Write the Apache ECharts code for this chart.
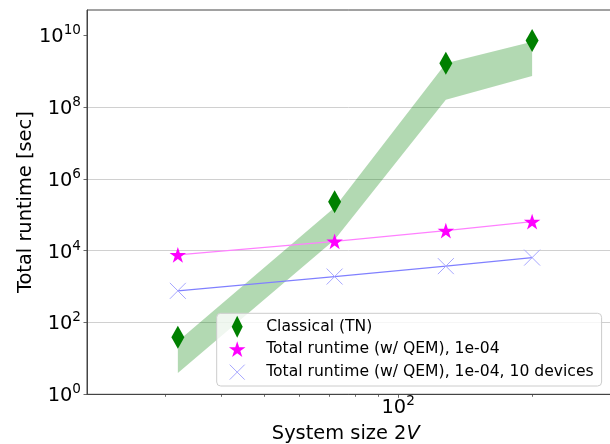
<!DOCTYPE html>
<html>
<head>
<meta charset="utf-8">
<script src="https://cdn.jsdelivr.net/npm/echarts@6/dist/echarts.min.js"></script>
<style>
html,body{margin:0;padding:0;background:#fff;}
#chart{width:610px;height:444px;}
</style>
</head>
<body>
<div id="chart"></div>
<script>
// ---- data ----
const systemSizes = [32, 72, 128, 200];
const classicalTN = [38.7, 2.3e5, 1.66e9, 7.1e9];
const classicalLow = [3.9, 2.0e4, 1.6e8, 7.3e8];
const classicalHigh = [30, 1.6e5, 1.66e9, 6.5e9];
const qemRuntime = [7.6e3, 1.8e4, 3.6e4, 6.4e4];
const qemRuntime10 = [7.6e2, 1.9e3, 3.7e3, 6.4e3];
const yTickExponents = [0, 2, 4, 6, 8, 10];
const xMajorTicks = [100];
const xMinorTicks = [30, 40, 50, 60, 70, 80, 90, 200, 300];
const seriesNames = [
  'Classical (TN)',
  'Total runtime (w/ QEM), 1e-04',
  'Total runtime (w/ QEM), 1e-04, 10 devices'
];

// ---- helpers ----
const lg = Math.log10;
const FONT = 'DejaVu Sans';
const pts = ys => systemSizes.map((x, i) => [lg(x), lg(ys[i])]);

function starPath(cx, cy, R) {
  const r = R * 0.381966;
  let d = '';
  for (let k = 0; k < 10; k++) {
    const a = (-90 + 36 * k) * Math.PI / 180;
    const rad = k % 2 ? r : R;
    d += (k ? 'L' : 'M') + (cx + rad * Math.cos(a)).toFixed(2) + ' ' + (cy + rad * Math.sin(a)).toFixed(2);
  }
  return d + 'Z';
}

const LW = 36, LH = 22.5;           // legend icon canvas
const pad = 'M0 0M' + LW + ' ' + LH; // bounding points for icon canvas
const legendIcons = [
  'path://' + pad + 'M12 0.25L17.5 11.25L12 22.25L6.5 11.25Z',
  'path://' + pad + starPath(12, 12.1, 8.7),
  'path://' + pad + 'M4.5 3.75L19.5 18.75M19.5 3.75L4.5 18.75'
];

const supRich = {
  b: { fontSize: 19.4, lineHeight: 22, padding: [4, 0, 0, 0], color: '#000', fontFamily: FONT },
  s: { fontSize: 13.6, lineHeight: 15, padding: [0, 0, 9, 0], color: '#000', fontFamily: FONT }
};

const axisColor = '#444';
const gridColor = '#d0d0d0';
const xMin = lg(20), xMax = lg(300);

// band polygon: upper edge left->right, lower edge right->left, mapped by the axes
function renderBand(params, api) {
  if (params.dataIndex !== 0) return null;
  const upper = pts(classicalHigh).map(p => api.coord(p));
  const lower = pts(classicalLow).map(p => api.coord(p)).reverse();
  return {
    type: 'polygon',
    shape: { points: upper.concat(lower) },
    style: { fill: 'rgba(0,128,0,0.3)', stroke: null }
  };
}

const option = {
  animation: false,
  textStyle: { fontFamily: FONT },
  grid: {
    left: 87, top: 10, right: -0.5, bottom: 49.7,
    containLabel: false, outerBoundsMode: 'none',
    show: true, borderColor: axisColor, borderWidth: 1, backgroundColor: 'transparent'
  },
  legend: {
    orient: 'vertical',
    left: 216.7, top: 313.3,
    padding: [2.1, 8, 2.1, 8],
    itemGap: 0,
    itemWidth: LW, itemHeight: LH,
    symbolKeepAspect: true,
    selectedMode: false,
    backgroundColor: 'rgba(255,255,255,0.8)',
    borderColor: '#cccccc', borderWidth: 1, borderRadius: 4,
    textStyle: { fontFamily: FONT, fontSize: 15.6, color: '#000' },
    data: [
      { name: seriesNames[0], icon: legendIcons[0], itemStyle: { color: '#008000', borderWidth: 0 } },
      { name: seriesNames[1], icon: legendIcons[1], itemStyle: { color: '#ff00ff', borderWidth: 0 } },
      { name: seriesNames[2], icon: legendIcons[2], itemStyle: { color: 'rgba(0,0,0,0)', borderColor: '#a6a6ff', borderWidth: 1 } }
    ]
  },
  xAxis: [
    {
      type: 'value', min: xMin, max: xMax,
      axisLine: { show: true, onZero: false, lineStyle: { color: axisColor, width: 1 } },
      axisTick: { show: true, customValues: xMinorTicks.map(lg), length: 2.5, lineStyle: { color: axisColor, width: 0.8 } },
      axisLabel: { show: false },
      splitLine: { show: false },
      name: '{n|System size 2}{i|V}',
      nameLocation: 'middle', nameGap: 30, nameMoveOverlap: false,
      nameTextStyle: {
        padding: [0, 6, 0, 0],
        rich: {
          n: { fontSize: 19.4, color: '#000', fontFamily: FONT },
          i: { fontSize: 19.4, color: '#000', fontFamily: FONT, fontStyle: 'italic' }
        }
      }
    },
    {
      type: 'value', min: xMin, max: xMax, position: 'bottom',
      axisLine: { show: false, onZero: false },
      axisTick: { show: true, customValues: xMajorTicks.map(lg), length: 3.5, lineStyle: { color: axisColor, width: 0.8 } },
      axisLabel: {
        show: true, customValues: xMajorTicks.map(lg), margin: 1,
        formatter: v => '{b|10}{s|' + Math.round(v) + '}',
        rich: supRich
      },
      splitLine: { show: true, showMinLine: false, showMaxLine: false, lineStyle: { color: gridColor, width: 1 } }
    }
  ],
  yAxis: {
    type: 'value', min: 0, max: 10.7, interval: 2,
    axisLine: { show: true, onZero: false, lineStyle: { color: axisColor, width: 1 } },
    axisTick: { show: true, customValues: yTickExponents, length: 3.5, lineStyle: { color: axisColor, width: 0.8 } },
    axisLabel: {
      customValues: yTickExponents, margin: 6,
      formatter: v => (Math.abs(v % 2) < 1e-9 ? '{b|10}{s|' + Math.round(v) + '}' : ''),
      rich: supRich
    },
    splitLine: { show: true, showMinLine: false, showMaxLine: false, lineStyle: { color: gridColor, width: 1 } },
    name: 'Total runtime [sec]',
    nameLocation: 'middle', nameGap: 52, nameRotate: 90, nameMoveOverlap: false,
    nameTextStyle: { fontSize: 19.4, color: '#000', fontFamily: FONT }
  },
  series: [
    {
      name: 'band', type: 'custom', xAxisIndex: 0, yAxisIndex: 0,
      data: pts(classicalLow), renderItem: renderBand, silent: true, z: 1
    },
    {
      name: 'qem-line', type: 'line', xAxisIndex: 0, data: pts(qemRuntime),
      symbol: 'none', silent: true, lineStyle: { color: '#ff80ff', width: 1.2 }, z: 2
    },
    {
      name: 'qem10-line', type: 'line', xAxisIndex: 0, data: pts(qemRuntime10),
      symbol: 'none', silent: true, lineStyle: { color: '#8080ff', width: 1.2 }, z: 2
    },
    {
      name: seriesNames[0], type: 'scatter', xAxisIndex: 0, data: pts(classicalTN),
      symbol: 'diamond', symbolSize: [13, 23],
      itemStyle: { color: '#008000', opacity: 1 }, z: 3
    },
    {
      name: seriesNames[1], type: 'scatter', xAxisIndex: 0, data: pts(qemRuntime),
      symbol: 'path://' + starPath(50, 50, 50), symbolSize: [16.5, 15.7],
      itemStyle: { color: '#ff00ff', opacity: 1 }, z: 3
    },
    {
      name: seriesNames[2], type: 'scatter', xAxisIndex: 0, data: pts(qemRuntime10),
      symbol: 'path://M0 0L16 16M16 0L0 16', symbolSize: 16,
      itemStyle: { color: 'rgba(0,0,0,0)', borderColor: '#a6a6ff', borderWidth: 1, opacity: 1 }, z: 3
    }
  ]
};

const chart = echarts.init(document.getElementById('chart'), null, { renderer: 'canvas' });
chart.setOption(option);
</script>
</body>
</html>
